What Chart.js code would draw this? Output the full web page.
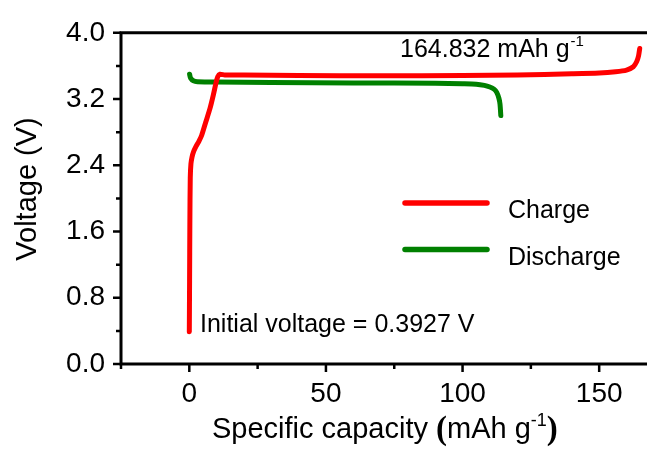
<!DOCTYPE html>
<html>
<head>
<meta charset="utf-8">
<script src="https://cdn.jsdelivr.net/npm/chart.js@4.4.1/dist/chart.umd.min.js"></script>
<style>
  html, body { margin: 0; padding: 0; background: #fff; }
  #wrap { width: 647px; height: 450px; }
</style>
</head>
<body>
<div id="wrap"><canvas id="c" width="647" height="450"></canvas></div>
<script>
// charge curve (mAh/g, V)
const chargeCapacity = [0, 0.1, 0.2, 0.35, 0.6, 1.0, 1.5, 2.5, 3.5, 4.5, 6.0, 7.6, 8.8, 9.8, 10.4, 11.2, 13, 20, 40, 70, 100, 120, 140, 150, 156, 160, 162.5, 163.7, 164.4, 164.832];
const chargeVoltage  = [0.39, 1.0, 1.7, 2.25, 2.42, 2.50, 2.56, 2.63, 2.69, 2.76, 2.92, 3.09, 3.25, 3.40, 3.47, 3.50, 3.49, 3.49, 3.485, 3.48, 3.485, 3.49, 3.505, 3.515, 3.53, 3.55, 3.59, 3.65, 3.72, 3.81];

// discharge curve
const dischargeCapacity = [0.1, 0.5, 1.5, 3, 10, 30, 60, 90, 100, 105, 108, 110, 111.5, 112.5, 113.3, 113.7, 114];
const dischargeVoltage  = [3.50, 3.45, 3.42, 3.41, 3.405, 3.40, 3.395, 3.39, 3.385, 3.38, 3.365, 3.345, 3.32, 3.28, 3.21, 3.14, 3.00];

const seriesNames = ['Charge', 'Discharge'];
const seriesColors = ['#ff0000', '#008000'];

// ticks
const xTicks = [0, 50, 100, 150];
const xMinorTicks = [-25, 25, 75, 125];
const yTicks = [0, 0.8, 1.6, 2.4, 3.2, 4.0];
const yMinorTicks = [0.4, 1.2, 2.0, 2.8, 3.6];

const SANS = '"Liberation Sans", Arial, sans-serif';
const SERIF = '"Liberation Serif", "Times New Roman", serif';

function toPoints(xs, ys) {
    return xs.map((x, i) => ({ x: x, y: ys[i] }));
}

// axes, ticks, titles, legend and notes
const decorPlugin = {
    id: 'decor',
    afterDatasetsDraw(chart) {
        const ctx = chart.ctx;
        const area = chart.chartArea;
        const xs = chart.scales.x;
        const ys = chart.scales.y;
        ctx.save();
        ctx.strokeStyle = '#000';
        ctx.lineWidth = 3;
        ctx.lineCap = 'butt';

        // axis lines
        ctx.beginPath();
        ctx.moveTo(area.left, area.top - 1.5);
        ctx.lineTo(area.left, area.bottom + 1.5);
        ctx.moveTo(area.left - 1.5, area.bottom);
        ctx.lineTo(area.right, area.bottom);
        ctx.moveTo(area.left - 1.5, area.top);
        ctx.lineTo(area.right, area.top);
        ctx.stroke();

        // tick marks
        ctx.lineWidth = 2.5;
        ctx.beginPath();
        yTicks.forEach(v => {
            const p = ys.getPixelForValue(v);
            ctx.moveTo(area.left, p); ctx.lineTo(area.left - 8, p);
        });
        yMinorTicks.forEach(v => {
            const p = ys.getPixelForValue(v);
            ctx.moveTo(area.left, p); ctx.lineTo(area.left - 5, p);
        });
        xTicks.forEach(v => {
            const p = xs.getPixelForValue(v);
            ctx.moveTo(p, area.bottom); ctx.lineTo(p, area.bottom + 8);
        });
        xMinorTicks.forEach(v => {
            const p = xs.getPixelForValue(v);
            ctx.moveTo(p, area.bottom); ctx.lineTo(p, area.bottom + 5);
        });
        ctx.stroke();

        ctx.fillStyle = '#000';
        ctx.textBaseline = 'alphabetic';
        ctx.textAlign = 'left';

        // y title
        ctx.save();
        ctx.translate(36, 189);
        ctx.rotate(-Math.PI / 2);
        ctx.font = '29px ' + SANS;
        ctx.textAlign = 'center';
        ctx.fillText('Voltage (V)', 0, 0);
        ctx.restore();

        // x title with superscript
        let x = 212;
        const base = 438;
        const parts = [
            { t: 'Specific capacity ', f: '29px ' + SANS, dy: 0 },
            { t: '(', f: 'bold 33px ' + SERIF, dy: 1 },
            { t: 'mAh g', f: '29px ' + SANS, dy: 0 },
            { t: '-1', f: '18px ' + SANS, dy: -12 },
            { t: ')', f: 'bold 33px ' + SERIF, dy: 1 }
        ];
        parts.forEach(p => {
            ctx.font = p.f;
            ctx.fillText(p.t, x, base + p.dy);
            x += ctx.measureText(p.t).width;
        });

        // capacity note
        ctx.font = '25px ' + SANS;
        ctx.fillText('164.832 mAh g', 400, 57);
        let w = ctx.measureText('164.832 mAh g').width;
        ctx.font = '15px ' + SANS;
        ctx.fillText('-1', 400 + w + 1, 46);

        // initial voltage note
        ctx.font = '25px ' + SANS;
        ctx.fillText('Initial voltage = 0.3927 V', 200, 332);

        // legend
        ctx.lineWidth = 5.5;
        ctx.lineCap = 'round';
        seriesNames.forEach((name, i) => {
            const ly = 203 + i * 46.5;
            ctx.strokeStyle = seriesColors[i];
            ctx.beginPath();
            ctx.moveTo(405, ly);
            ctx.lineTo(487, ly);
            ctx.stroke();
            ctx.font = '25px ' + SANS;
            ctx.fillText(name, 508, ly + 15);
        });

        ctx.restore();
    }
};

new Chart(document.getElementById('c'), {
    type: 'scatter',
    data: {
        datasets: [{
            label: seriesNames[0],
            data: toPoints(chargeCapacity, chargeVoltage),
            borderColor: seriesColors[0],
            backgroundColor: seriesColors[0]
        }, {
            label: seriesNames[1],
            data: toPoints(dischargeCapacity, dischargeVoltage),
            borderColor: seriesColors[1],
            backgroundColor: seriesColors[1]
        }]
    },
    options: {
        responsive: false,
        animation: false,
        showLine: true,
        elements: {
            point: { radius: 0, hoverRadius: 0 },
            line: { borderWidth: 5, tension: 0.25, borderCapStyle: 'round', borderJoinStyle: 'round' }
        },
        layout: { padding: { top: 27, right: 0, bottom: 0, left: 0 } },
        plugins: {
            legend: { display: false },
            tooltip: { enabled: false }
        },
        scales: {
            x: {
                type: 'linear',
                min: -25,
                max: 167.5,
                grid: { display: false, drawTicks: false },
                border: { display: false },
                afterBuildTicks: s => { s.ticks = xTicks.map(v => ({ value: v })); },
                afterFit: s => { s.height = 86; },
                ticks: {
                    padding: 13,
                    color: '#000',
                    font: { family: SANS, size: 28 },
                    maxRotation: 0,
                    callback: v => String(v)
                }
            },
            y: {
                type: 'linear',
                min: 0,
                max: 4,
                grid: { display: false, drawTicks: false },
                border: { display: false },
                afterBuildTicks: s => { s.ticks = yTicks.map(v => ({ value: v })); },
                afterFit: s => { s.width = 121; },
                ticks: {
                    padding: 16,
                    color: '#000',
                    font: { family: SANS, size: 28 },
                    callback: v => v.toFixed(1)
                }
            }
        }
    },
    plugins: [decorPlugin]
});
</script>
</body>
</html>
